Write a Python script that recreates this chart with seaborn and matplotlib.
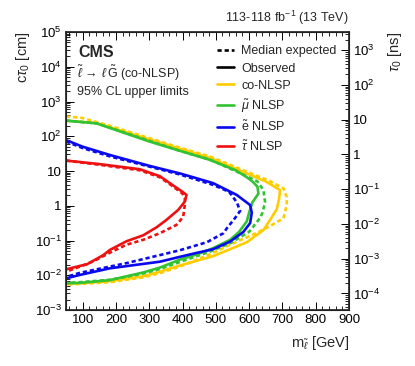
import numpy as np
import pandas as pd
import matplotlib
matplotlib.use("Agg")
import matplotlib.pyplot as plt
import seaborn as sns
from matplotlib.lines import Line2D
from matplotlib.ticker import FixedLocator, FixedFormatter, MultipleLocator, LogLocator, NullFormatter

# ---------------- data (mass in GeV, log10 of c*tau0 in cm) ----------------
co_obs_mass = [50, 142, 392, 482, 593, 650, 693, 690, 683, 660, 643, 593, 543, 492, 392, 332, 282, 182, 92, 50]
co_obs_logct = [2.45, 2.38, 1.64, 1.38, 0.93, 0.70, 0.45, 0.20, -0.10, -0.45, -0.70, -1.05, -1.25, -1.45, -1.72, -1.90, -2.03, -2.17, -2.23, -2.25]
co_exp_mass = [50, 97, 182, 392, 482, 593, 660, 703, 713, 713, 703, 660, 623, 543, 482, 392, 332, 282, 182, 92, 50]
co_exp_logct = [2.57, 2.53, 2.30, 1.67, 1.42, 0.98, 0.72, 0.50, 0.25, 0.02, -0.36, -0.60, -0.78, -1.12, -1.40, -1.75, -1.94, -2.06, -2.20, -2.25, -2.27]

mu_obs_mass = [50, 142, 300, 392, 482, 560, 593, 610, 625, 628, 610, 600, 593, 570, 543, 492, 443, 392, 332, 282, 182, 92, 50]
mu_obs_logct = [2.45, 2.37, 1.85, 1.58, 1.32, 1.02, 0.82, 0.70, 0.55, 0.35, 0.10, -0.20, -0.45, -0.75, -0.98, -1.22, -1.40, -1.55, -1.78, -1.92, -2.14, -2.22, -2.23]
mu_exp_mass = [50, 142, 392, 482, 593, 625, 643, 648, 640, 633, 600, 543, 482, 392, 332, 282, 182, 92, 50]
mu_exp_logct = [2.45, 2.37, 1.58, 1.33, 0.85, 0.70, 0.45, 0.10, -0.20, -0.35, -0.75, -1.08, -1.32, -1.62, -1.82, -1.95, -2.13, -2.20, -2.22]

e_obs_mass = [50, 100, 182, 300, 392, 432, 492, 563, 603, 608, 603, 583, 543, 492, 432, 392, 332, 182, 92, 50]
e_obs_logct = [1.89, 1.70, 1.46, 1.15, 0.93, 0.82, 0.65, 0.31, 0.02, -0.20, -0.50, -0.75, -1.03, -1.25, -1.38, -1.47, -1.61, -1.80, -1.99, -2.09]
e_exp_mass = [50, 100, 182, 392, 492, 540, 563, 573, 558, 533, 523, 473, 392, 332, 232, 132, 92, 50]
e_exp_logct = [1.85, 1.66, 1.42, 0.90, 0.60, 0.40, 0.10, -0.15, -0.35, -0.65, -0.79, -1.05, -1.28, -1.42, -1.65, -1.85, -1.93, -2.05]

tau_obs_mass = [50, 150, 272, 332, 362, 400, 412, 407, 387, 350, 322, 282, 232, 182, 162, 112, 92, 50]
tau_obs_logct = [1.30, 1.20, 1.05, 0.85, 0.65, 0.40, 0.31, 0.12, -0.12, -0.42, -0.62, -0.85, -1.02, -1.27, -1.42, -1.69, -1.73, -1.83]
tau_exp_mass = [50, 150, 272, 332, 362, 400, 407, 407, 402, 382, 332, 282, 232, 182, 132, 92, 50]
tau_exp_logct = [1.30, 1.18, 1.02, 0.82, 0.62, 0.35, 0.20, 0.03, -0.32, -0.55, -0.79, -0.98, -1.12, -1.35, -1.60, -1.75, -1.90]

models = ["co-NLSP", r"$\tilde{\mu}$ NLSP", r"$\tilde{\mathrm{e}}$ NLSP", r"$\tilde{\tau}$ NLSP"]
colors = ["#ffcc00", "#33c233", "#0a0aee", "#ee1111"]
x_ticks = [100, 200, 300, 400, 500, 600, 700, 800, 900]
ct_ticks = [1e-3, 1e-2, 1e-1, 1, 10, 1e2, 1e3, 1e4, 1e5]
ct_labels = [r"$10^{-3}$", r"$10^{-2}$", r"$10^{-1}$", "1", "10", r"$10^{2}$", r"$10^{3}$", r"$10^{4}$", r"$10^{5}$"]
tau_ticks = [1e-4, 1e-3, 1e-2, 1e-1, 1, 10, 1e2, 1e3]
tau_labels = [r"$10^{-4}$", r"$10^{-3}$", r"$10^{-2}$", r"$10^{-1}$", "1", "10", r"$10^{2}$", r"$10^{3}$"]
C_CM_PER_NS = 29.9792458

curves = [
    (models[0], "Expected", co_exp_mass, co_exp_logct),
    (models[0], "Observed", co_obs_mass, co_obs_logct),
    (models[1], "Expected", mu_exp_mass, mu_exp_logct),
    (models[1], "Observed", mu_obs_mass, mu_obs_logct),
    (models[2], "Expected", e_exp_mass, e_exp_logct),
    (models[2], "Observed", e_obs_mass, e_obs_logct),
    (models[3], "Expected", tau_exp_mass, tau_exp_logct),
    (models[3], "Observed", tau_obs_mass, tau_obs_logct),
]
rows = []
for model, kind, ms, ls in curves:
    for i, (m, l) in enumerate(zip(ms, ls)):
        rows.append({"model": model, "kind": kind, "mass": m, "ctau": 10.0 ** l, "idx": i})
df = pd.DataFrame(rows)

# ---------------- style ----------------
sns.set_theme(style="ticks")
plt.rcParams["font.family"] = ["Liberation Sans", "DejaVu Sans"]
plt.rcParams["mathtext.fontset"] = "custom"
plt.rcParams["mathtext.rm"] = "Liberation Sans"
plt.rcParams["mathtext.it"] = "Liberation Sans:italic"
plt.rcParams["mathtext.bf"] = "Liberation Sans:bold"

fig = plt.figure(figsize=(4.15, 3.66), dpi=100)
ax = fig.add_axes([66 / 415, 1 - 310 / 366, (349 - 66) / 415, (310 - 32) / 366])

DASH = (0, (1.6, 1.1))
palette = dict(zip(models, colors))
for model, kind, ms, ls in curves:
    sub = df[(df.model == model) & (df.kind == kind)]
    sns.lineplot(data=sub, x="mass", y="ctau", sort=False, estimator=None, ax=ax,
                 color=palette[model], lw=1.9, legend=False,
                 linestyle=DASH if kind == "Expected" else "-")

ax.set_xscale("linear")
ax.set_yscale("log")
ax.set_xlim(50, 900)
ax.set_ylim(1e-3, 1e5)
ax.xaxis.set_major_locator(FixedLocator(x_ticks))
ax.xaxis.set_minor_locator(MultipleLocator(20))
ax.yaxis.set_major_locator(FixedLocator(ct_ticks))
ax.yaxis.set_major_formatter(FixedFormatter(ct_labels))
ax.yaxis.set_minor_locator(LogLocator(base=10, subs=np.arange(2, 10), numticks=20))
ax.yaxis.set_minor_formatter(NullFormatter())
ax.tick_params(which="both", direction="in", top=True, right=False, labelsize=9.5, colors="black", pad=3)
ax.tick_params(which="major", length=6, width=0.7)
ax.tick_params(which="minor", length=3, width=0.6)
for sp in ax.spines.values():
    sp.set_linewidth(0.8)
    sp.set_color("black")

ax.set_xlabel(r"m$_{\tilde{\ell}}$ [GeV]", fontsize=10.5, loc="right", labelpad=6)
ax.set_ylabel(r"c$\tau_{0}$ [cm]", fontsize=10.5, loc="top", labelpad=2)

ax2 = ax.twinx()
ax2.set_yscale("log")
ax2.set_ylim(1e-3 / C_CM_PER_NS, 1e5 / C_CM_PER_NS)
ax2.yaxis.set_major_locator(FixedLocator(tau_ticks))
ax2.yaxis.set_major_formatter(FixedFormatter(tau_labels))
ax2.yaxis.set_minor_locator(LogLocator(base=10, subs=np.arange(2, 10), numticks=20))
ax2.yaxis.set_minor_formatter(NullFormatter())
ax2.tick_params(which="both", direction="in", labelsize=9.5, colors="black", pad=3)
ax2.tick_params(which="major", length=6, width=0.7)
ax2.tick_params(which="minor", length=3, width=0.6)
ax2.set_ylabel(r"$\tau_{0}$ [ns]", fontsize=10.5, loc="top", labelpad=4)

# texts
ax.text(0.045, 0.925, "CMS", transform=ax.transAxes, fontsize=11.5, fontweight="bold", va="center", ha="left")
ax.text(0.04, 0.85, r"$\tilde{\ell}\,\rightarrow\,\ell\,\tilde{\mathrm{G}}$ (co-NLSP)", transform=ax.transAxes,
        fontsize=9, va="center", ha="left")
ax.text(0.04, 0.785, "95% CL upper limits", transform=ax.transAxes, fontsize=9, va="center", ha="left")
fig.text(349 / 415, 1 - 18 / 366, r"113-118 fb$^{-1}$ (13 TeV)", fontsize=9, ha="right", va="center")

handles = [Line2D([], [], color="black", lw=1.9, ls=DASH),
           Line2D([], [], color="black", lw=1.9)]
labels = ["Median expected", "Observed"]
for m, c in zip(models, colors):
    handles.append(Line2D([], [], color=c, lw=1.9))
    labels.append(m)
ax.legend(handles, labels, loc="upper left", bbox_to_anchor=(0.535, 0.952), frameon=False, fontsize=9,
          handlelength=1.3, handletextpad=0.6, labelspacing=0.42, borderaxespad=0, borderpad=0)

fig.savefig("out.png", dpi=100)
